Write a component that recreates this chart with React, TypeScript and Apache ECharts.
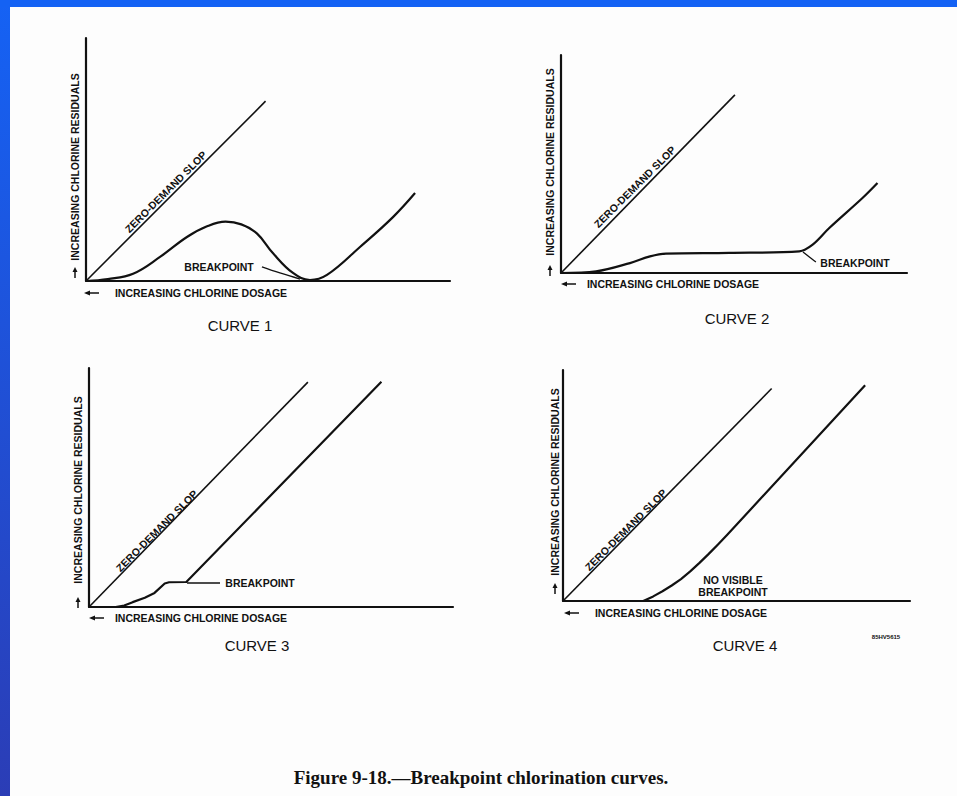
import React, { useEffect, useRef } from "react";
import * as echarts from "echarts";

// ---- data (arbitrary dosage / residual units) ----
const panelNames = ["CURVE 1", "CURVE 2", "CURVE 3", "CURVE 4"];
const xMaxes = [15, 15, 15, 15];
const yMaxes = [10, 9.45, 9.85, 10];

const zeroDemand1 = [[0, 0], [7.4, 7.4]];
const zeroDemand2 = [[0, 0], [7.54, 7.72]];
const zeroDemand3 = [[0, 0], [9.02, 9.27]];
const zeroDemand4 = [[0, 0], [9.02, 9.2]];

const curve1 = [
  [0, 0], [0.9, 0.08], [1.94, 0.3], [3.05, 0.99], [4.16, 1.81], [4.99, 2.25],
  [5.75, 2.44], [6.4, 2.33], [7.05, 1.95], [7.7, 1.15], [8.53, 0.33],
  [9.23, 0.04], [9.93, 0.25], [11.29, 1.4], [12.65, 2.63], [13.56, 3.62],
];
const curve2 = [
  [0, 0], [1.52, 0.07], [2.99, 0.43], [3.86, 0.72], [4.55, 0.84], [7.3, 0.87],
  [10.33, 0.94], [10.91, 1.23], [11.63, 1.95], [13.07, 3.25], [13.72, 3.9],
];
const curve3 = [
  [0, 0], [1.1, 0], [1.45, 0.06], [1.8, 0.2], [2.3, 0.38], [2.7, 0.58],
  [3.12, 0.97], [3.3, 1.02], [4.01, 1.03], [12.05, 9.28],
];
const curve4 = [
  [3.47, 0], [3.9, 0.2], [4.3, 0.42], [4.7, 0.67], [5.1, 0.95], [5.5, 1.28],
  [5.9, 1.65], [6.3, 2.04], [6.7, 2.45], [7.1, 2.87], [7.5, 3.3], [13.06, 9.34],
];

const leader1 = [[7.25, 0.58], [7.99, 0.33], [8.82, 0.08]];
const leader2 = [[10.49, 0.91], [10.88, 0.61], [11.05, 0.48]];
const leader3 = [[4.04, 0.99], [5.4, 0.99]];

const yAxisTitle = "INCREASING CHLORINE RESIDUALS";
const xAxisTitle = "INCREASING CHLORINE DOSAGE";
const slopeTitle = "ZERO-DEMAND SLOP";
const breakpointText = "BREAKPOINT";
const noBreakText = ["NO VISIBLE", "BREAKPOINT"];
const figureCaption = "Figure 9-18.\u2014Breakpoint chlorination curves.";
const figureCode = "85HV5615";

// ---- layout ----
const grids = [
  { left: 86, top: 38, width: 364, height: 243 },
  { left: 561, top: 55, width: 346, height: 218 },
  { left: 89, top: 368, width: 364, height: 239 },
  { left: 563, top: 370, width: 347, height: 231 },
];

const INK = "#111";
const SMALL = "bold 10.5px 'Liberation Sans', Arial, sans-serif";

function txt(text: string, x: number, y: number, font: string, rotation = 0, align = "center") {
  return {
    type: "text",
    x,
    y,
    rotation,
    style: { text, font, fill: INK, textAlign: align, textVerticalAlign: "middle" },
    silent: true,
  };
}

function upArrow(x: number, y: number) {
  return [
    { type: "polygon", shape: { points: [[x - 2.5, y - 1], [x + 2.5, y - 1], [x, y - 6]] }, style: { fill: INK } },
    { type: "line", shape: { x1: x, y1: y - 1, x2: x, y2: y + 5 }, style: { stroke: INK, lineWidth: 1.5 } },
  ];
}
function leftArrow(x: number, y: number) {
  return [
    { type: "polygon", shape: { points: [[x + 1, y - 2.5], [x + 1, y + 2.5], [x - 5, y]] }, style: { fill: INK } },
    { type: "line", shape: { x1: x + 1, y1: y, x2: x + 10, y2: y }, style: { stroke: INK, lineWidth: 1.5 } },
  ];
}

export default function App() {
  const ref = useRef<HTMLDivElement>(null);

  useEffect(() => {
    if (!ref.current) return;
    const chart = echarts.init(ref.current, undefined, { renderer: "svg" });

    const zeroDemands = [zeroDemand1, zeroDemand2, zeroDemand3, zeroDemand4];
    const curves = [curve1, curve2, curve3, curve4];
    const smooths: (number | boolean)[] = [0.4, 0.35, false, false];
    const leaders = [leader1, leader2, leader3];

    const series: any[] = [];
    for (let i = 0; i < 4; i++) {
      series.push({
        type: "line",
        name: "Zero-demand slope " + (i + 1),
        xAxisIndex: i,
        yAxisIndex: i,
        data: zeroDemands[i],
        showSymbol: false,
        lineStyle: { color: INK, width: 1.6 },
        silent: true,
      });
      series.push({
        type: "line",
        name: panelNames[i],
        xAxisIndex: i,
        yAxisIndex: i,
        data: curves[i],
        smooth: smooths[i],
        showSymbol: false,
        lineStyle: { color: INK, width: 2.2, join: "round" },
        silent: true,
      });
    }
    leaders.forEach((d, i) => {
      series.push({
        type: "line",
        name: "Breakpoint leader " + (i + 1),
        xAxisIndex: i,
        yAxisIndex: i,
        data: d,
        smooth: 0.4,
        showSymbol: false,
        lineStyle: { color: INK, width: 1.3 },
        silent: true,
      });
    });

    const axisCommon = {
      type: "value",
      min: 0,
      axisLine: { show: true, lineStyle: { color: INK, width: 2.2 } },
      axisTick: { show: false },
      axisLabel: { show: false },
      splitLine: { show: false },
    };

    const yLabelPos = [[75, 167], [550, 162], [78, 490], [555, 482]];
    const yArrowPos = [[75, 273], [550, 271], [78, 603], [555, 589]];
    const xLabelPos = [[201, 293], [673, 284], [201, 618], [681, 613]];
    const xArrowPos = [[89, 293], [566, 284], [94, 618], [569, 613]];
    const slopePos = [[166, 192], [635, 187], [157, 531], [626, 530]];
    const curvePos = [[240, 325], [737, 318], [257, 645], [745, 645]];

    const graphics: any[] = [
      {
        type: "rect",
        shape: { x: 0, y: 0, width: 10, height: 796 },
        style: {
          fill: new echarts.graphic.LinearGradient(0, 0, 0, 1, [
            { offset: 0, color: "#1562f4" },
            { offset: 1, color: "#2b3db6" },
          ]),
        },
        silent: true,
      },
      { type: "rect", shape: { x: 0, y: 0, width: 957, height: 7 }, style: { fill: "#1462f4" }, silent: true },
    ];
    for (let i = 0; i < 4; i++) {
      graphics.push(txt(yAxisTitle, yLabelPos[i][0], yLabelPos[i][1], SMALL, Math.PI / 2));
      graphics.push(...upArrow(yArrowPos[i][0], yArrowPos[i][1]));
      graphics.push(txt(xAxisTitle, xLabelPos[i][0], xLabelPos[i][1], SMALL));
      graphics.push(...leftArrow(xArrowPos[i][0], xArrowPos[i][1]));
      graphics.push(txt(slopeTitle, slopePos[i][0], slopePos[i][1], SMALL, Math.PI / 4));
      graphics.push(txt(panelNames[i], curvePos[i][0], curvePos[i][1], "15px 'Liberation Sans', Arial, sans-serif"));
    }
    graphics.push(txt(breakpointText, 219, 267, SMALL));
    graphics.push(txt(breakpointText, 855, 263, SMALL));
    graphics.push(txt(breakpointText, 260, 583, SMALL));
    graphics.push(txt(noBreakText[0], 733, 580, SMALL));
    graphics.push(txt(noBreakText[1], 733, 592, SMALL));
    graphics.push(txt(figureCode, 886, 637, "bold 6px 'Liberation Sans', Arial, sans-serif"));
    graphics.push(txt(figureCaption, 481, 777, "bold 19px 'Liberation Serif', 'Times New Roman', serif"));

    chart.setOption({
      animation: false,
      backgroundColor: "#fdfdfd",
      grid: grids.map((g) => ({ ...g, containLabel: false })),
      xAxis: grids.map((_, i) => ({ ...axisCommon, gridIndex: i, max: xMaxes[i] })),
      yAxis: grids.map((_, i) => ({ ...axisCommon, gridIndex: i, max: yMaxes[i] })),
      series,
      graphic: graphics,
    });

    return () => chart.dispose();
  }, []);

  return (
    <div
      ref={ref}
      style={{ position: "absolute", left: 0, top: 0, width: 957, height: 796 }}
    />
  );
}
